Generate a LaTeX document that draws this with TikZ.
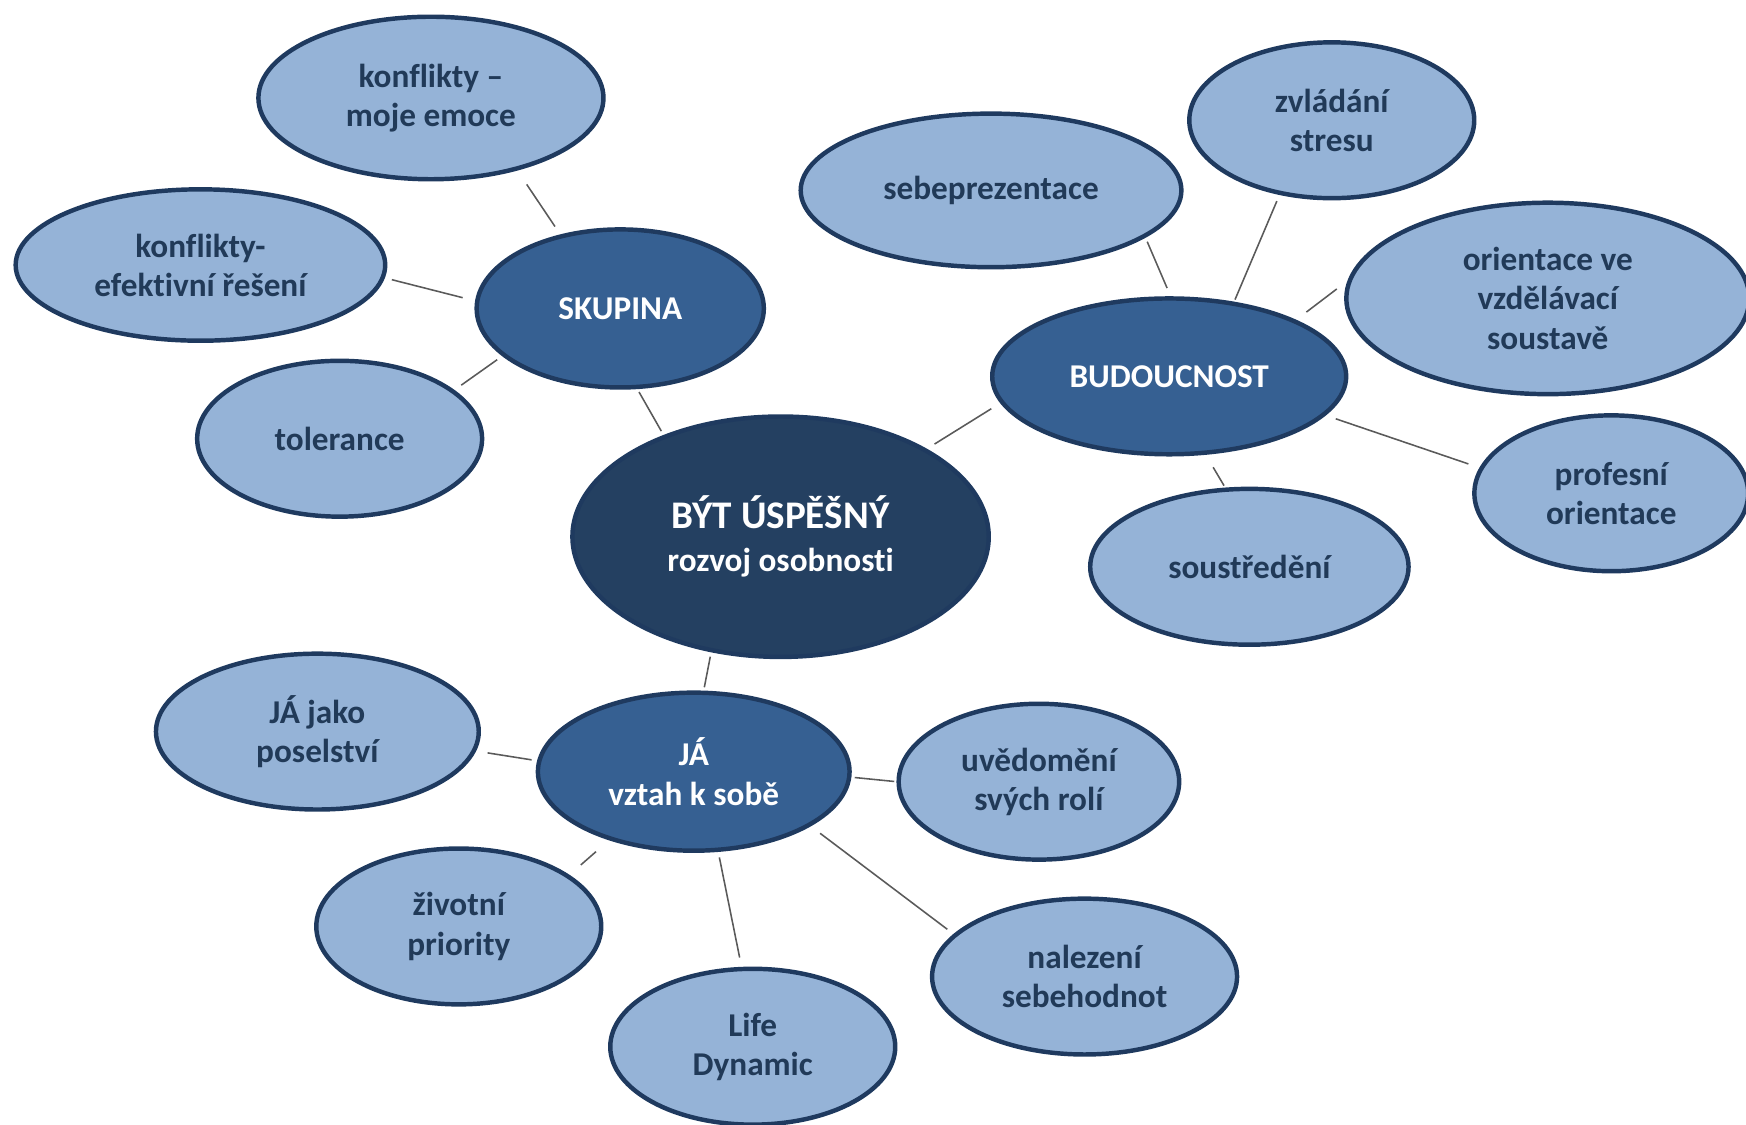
\documentclass[tikz,border=0pt]{standalone}
\usepackage{fontspec}
\setmainfont{Carlito}[Ligatures={NoCommon,NoRequired,NoContextual}]
\usetikzlibrary{shapes.geometric}
\definecolor{leaffill}{HTML}{95B3D7}
\definecolor{hubfill}{HTML}{366092}
\definecolor{corefill}{HTML}{244061}
\definecolor{rim}{HTML}{1F3A5F}
\definecolor{txt}{HTML}{213A58}
\definecolor{linkc}{HTML}{5A5A5A}
\begin{document}
\begin{tikzpicture}[x=0.02cm,y=-0.02cm,
 bub/.style={ellipse, draw=rim, line width=0.08cm, inner sep=0pt, align=center,
   font=\bfseries\fontsize{17}{20}\selectfont},
 leaf/.style={bub, fill=leaffill, text=txt},
 hub/.style={bub, fill=hubfill, text=white},
 core/.style={bub, fill=corefill, text=white},
 link/.style={draw=linkc, line width=0.8pt},
 sz/.style 2 args={minimum width={#1*0.04cm-0.08cm}, minimum height={#2*0.04cm-0.08cm}}
]
\useasboundingbox (0,0) rectangle (1568,1010);

\node[leaf, sz={157}{75}] (k1) at (387,88) {konflikty –\\moje emoce};
\node[leaf, sz={168}{70}] (k2) at (180,238) {konflikty-\\efektivní řešení};
\node[hub, sz={131}{73}] (sk) at (557,277) {SKUPINA};
\node[leaf, sz={130}{72}] (tol) at (305,394) {tolerance};
\node[core, sz={189}{110}] (core) at (701,482) {{\fontsize{20}{24}\selectfont BÝT ÚSPĚŠNÝ}\\[2pt]rozvoj osobnosti};
\node[leaf, sz={173}{71}] (seb) at (890,171) {sebeprezentace};
\node[leaf, sz={130}{72}] (zv) at (1196,108) {zvládání\\stresu};
\node[leaf, sz={183}{88}] (or) at (1390,268) {orientace ve\\vzdělávací\\soustavě};
\node[hub, sz={161}{72}] (bud) at (1050,338) {BUDOUCNOST};
\node[leaf, sz={125}{72}] (prof) at (1447,443) {profesní\\orientace};
\node[leaf, sz={145}{72}] (sou) at (1122,509) {soustředění};
\node[hub, sz={142}{73}] (ja) at (623,693) {JÁ\\vztah k sobě};
\node[leaf, sz={147}{72}] (jp) at (285,657) {JÁ jako\\poselství};
\node[leaf, sz={128}{72}] (uv) at (933,702) {uvědomění\\svých rolí};
\node[leaf, sz={130}{72}] (pri) at (412,832) {životní\\priority};
\node[leaf, sz={130}{72}] (life) at (676,940) {Life\\Dynamic};
\node[leaf, sz={139}{72}] (nal) at (974,877) {nalezení\\sebehodnot};

\draw[link, shorten <=0.30cm, shorten >=0.17cm] (k1.-40) -- (sk.129);
\draw[link, shorten <=0.13cm, shorten >=0.23cm] (k2.-4) -- (sk.177);
\draw[link, shorten <=0.15cm, shorten >=0.11cm] (tol.23) -- (sk.202);
\draw[link, shorten <=0.06cm, shorten >=0.08cm] (sk.-78) -- (core.139);
\draw[link, shorten <=0.16cm, shorten >=0.19cm] (core.31.5) -- (bud.189);
\draw[link, shorten <=0.08cm, shorten >=0.16cm] (seb.-17) -- (bud.89);
\draw[link, shorten <=0.12cm, shorten >=0.04cm] (zv.-125) -- (bud.49);
\draw[link, shorten <=0.24cm, shorten >=0.23cm] (or.175) -- (bud.24);
\draw[link, shorten <=0.19cm, shorten >=0.21cm] (bud.-14) -- (prof.169);
\draw[link, shorten <=0.26cm, shorten >=0.04cm] (bud.-65) -- (sou.107);
\draw[link, shorten <=0.08cm, shorten >=0.06cm] (core.-121) -- (ja.83);
\draw[link, shorten <=0.21cm, shorten >=0.10cm] (jp.-7) -- (ja.176.5);
\draw[link, shorten <=0.06cm, shorten >=0.04cm] (ja.-2.4) -- (uv.180);
\draw[link, shorten <=0.31cm, shorten >=0.27cm] (ja.-141) -- (pri.25);
\draw[link, shorten <=0.10cm, shorten >=0.17cm] (ja.-73) -- (life.98.5);
\draw[link, shorten <=0.21cm, shorten >=0.14cm] (ja.-25) -- (nal.162);
\end{tikzpicture}
\end{document}
